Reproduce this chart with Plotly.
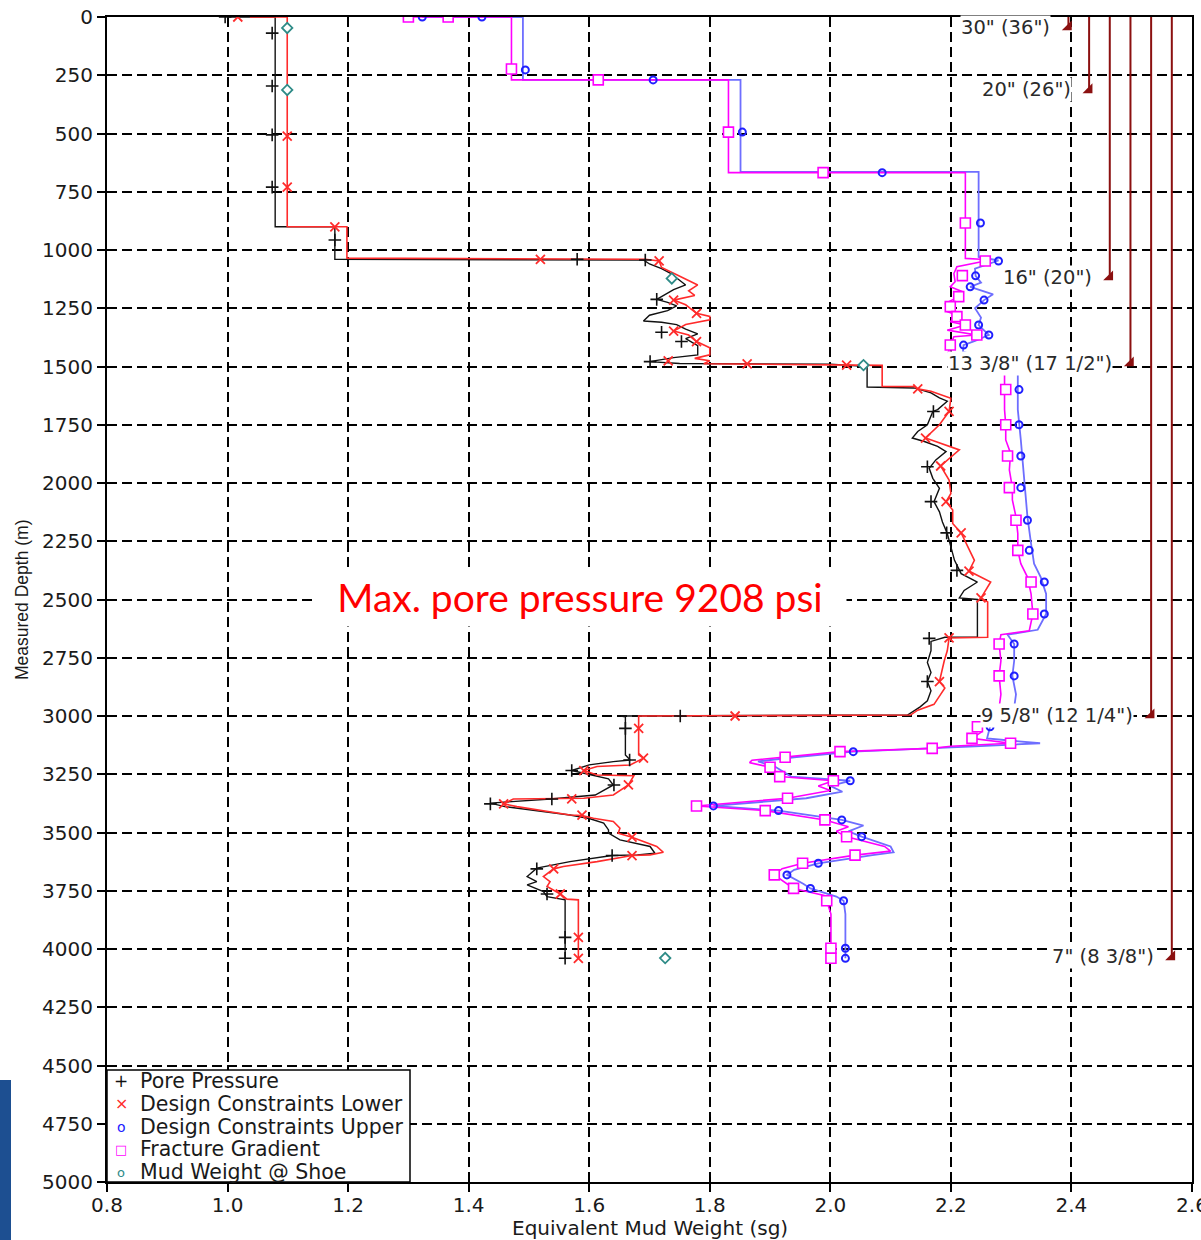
import plotly.graph_objects as go

# ---------------- DATA (sg = equivalent mud weight, md = measured depth m) ----------------
# Pore pressure curve
pp_line_sg = [1.00, 1.079, 1.079, 1.178, 1.178, 1.69, 1.70, 1.72, 1.735, 1.75, 1.76, 1.74, 1.712, 1.73, 1.745,
              1.73, 1.70, 1.69, 1.72, 1.745, 1.76, 1.78, 1.76, 1.78, 1.78, 1.74, 1.70, 1.75, 2.00, 2.061,
              2.061, 2.139, 2.167, 2.181, 2.194, 2.178, 2.170, 2.161, 2.145, 2.136, 2.156, 2.178, 2.192, 2.175,
              2.164, 2.170, 2.181, 2.172, 2.181, 2.186, 2.194, 2.200, 2.206, 2.217, 2.233, 2.244, 2.222, 2.214,
              2.244, 2.244, 2.190, 2.167, 2.167, 2.161, 2.167, 2.161, 2.167, 2.161, 2.149, 2.128, 1.652,
              1.66, 1.66, 1.668, 1.64, 1.60, 1.571, 1.60, 1.632, 1.64, 1.61, 1.536, 1.436, 1.46, 1.568, 1.60,
              1.624, 1.632, 1.632, 1.651, 1.701, 1.709, 1.68, 1.638, 1.568, 1.513, 1.497, 1.513, 1.497, 1.524,
              1.53, 1.56, 1.56, 1.56]
pp_line_md = [0, 0, 900, 900, 1040, 1043, 1060, 1080, 1100, 1130, 1150, 1170, 1212, 1225, 1240,
              1260, 1280, 1305, 1310, 1320, 1340, 1360, 1380, 1410, 1450, 1462, 1479, 1487, 1490, 1500,
              1588, 1592, 1613, 1635, 1649, 1685, 1693, 1750, 1779, 1807, 1822, 1843, 1865, 1901,
              1937, 1980, 2023, 2080, 2124, 2167, 2217, 2274, 2332, 2389, 2410, 2425, 2461, 2493,
              2500, 2662, 2662, 2680, 2720, 2770, 2813, 2852, 2892, 2935, 2961, 2996, 3000,
              3003, 3167, 3189, 3196, 3210, 3234, 3250, 3270, 3296, 3339, 3356, 3374, 3389, 3425, 3440,
              3460, 3489, 3503, 3532, 3560, 3589, 3596, 3599, 3625, 3653, 3689, 3711, 3725, 3754,
              3775, 3789, 3950, 4040]
pp_mark_sg = [0.996, 1.074, 1.074, 1.074, 1.074, 1.178, 1.58, 1.693, 1.712, 1.72, 1.753, 1.701, 2.171, 2.161,
              2.167, 2.193, 2.21, 2.164, 2.161, 1.751, 1.66, 1.667, 1.571, 1.641, 1.538, 1.436, 1.638, 1.513,
              1.53, 1.56, 1.56]
pp_mark_md = [0, 69, 296, 506, 730, 957, 1040, 1043, 1212, 1353, 1393, 1479, 1693, 1930,
              2080, 2214, 2375, 2667, 2852, 3000, 3053, 3189, 3234, 3296, 3356, 3377, 3599, 3656,
              3764, 3950, 4040]

# Design constraints lower
dcl_line_sg = [1.037, 1.099, 1.099, 1.198, 1.198, 1.693, 1.716, 1.72, 1.74, 1.765, 1.78, 1.765, 1.775, 1.74,
               1.76, 1.778, 1.80, 1.80, 1.76, 1.74, 1.765, 1.778, 1.80, 1.80, 1.775, 1.80, 1.79, 2.086,
               2.086, 2.139, 2.145, 2.167, 2.200, 2.197, 2.181, 2.158, 2.200, 2.214, 2.183, 2.197, 2.200,
               2.192, 2.203, 2.203, 2.217, 2.228, 2.239, 2.230, 2.250, 2.266, 2.250, 2.261, 2.261, 2.197,
               2.194, 2.189, 2.181, 2.190, 2.183, 2.172, 2.145, 2.133, 1.682,
               1.682, 1.682, 1.69, 1.668, 1.613, 1.591, 1.613, 1.674, 1.665, 1.64, 1.591, 1.474, 1.458, 1.48,
               1.568, 1.588, 1.607, 1.64, 1.651, 1.648, 1.671, 1.712, 1.723, 1.701, 1.671, 1.613, 1.557,
               1.541, 1.524, 1.535, 1.53, 1.552, 1.563, 1.582, 1.582, 1.582]
dcl_line_md = [0, 0, 900, 900, 1035, 1040, 1047, 1075, 1100, 1130, 1150, 1175, 1195, 1215,
               1235, 1272, 1285, 1300, 1320, 1348, 1365, 1393, 1420, 1450, 1465, 1475, 1488, 1495,
               1586, 1586, 1596, 1606, 1636, 1693, 1750, 1807, 1843, 1858, 1927, 1987, 2045,
               2080, 2116, 2174, 2214, 2274, 2332, 2378, 2404, 2425, 2493, 2510, 2662, 2665,
               2720, 2763, 2852, 2880, 2907, 2950, 2975, 2996, 3000,
               3053, 3167, 3181, 3210, 3217, 3234, 3253, 3256, 3296, 3339, 3353, 3356, 3377, 3389,
               3425, 3427, 3439, 3453, 3482, 3503, 3520, 3560, 3585, 3596, 3599, 3625, 3646,
               3656, 3689, 3711, 3732, 3764, 3786, 3789, 3950, 4040]
dcl_mark_sg = [1.017, 1.099, 1.099, 1.178, 1.519, 1.716, 1.74, 1.778, 1.74, 1.778, 1.731, 1.862, 2.027,
               2.145, 2.197, 2.158, 2.183, 2.192, 2.217, 2.23, 2.25, 2.197, 2.181, 1.842, 1.682, 1.69,
               1.591, 1.665, 1.571, 1.458, 1.588, 1.671, 1.671, 1.541, 1.552, 1.582, 1.582]
dcl_mark_md = [0, 511, 730, 901, 1040, 1047, 1215, 1272, 1348, 1393, 1476, 1489, 1494,
               1596, 1693, 1807, 1927, 2080, 2214, 2378, 2493, 2665, 2852, 3000, 3053, 3181,
               3234, 3296, 3356, 3377, 3425, 3520, 3599, 3656, 3764, 3950, 4040]

# Design constraints upper
dcu_line_sg = [1.323, 1.49, 1.49, 1.851, 1.851, 2.246, 2.246, 2.279, 2.24, 2.241, 2.25, 2.232, 2.27, 2.255,
               2.24, 2.25, 2.246, 2.263, 2.24, 2.221, 2.22, 2.311, 2.311, 2.311, 2.316, 2.319, 2.322, 2.327,
               2.333, 2.338, 2.349, 2.358, 2.358, 2.344, 2.294, 2.305, 2.305, 2.302, 2.308, 2.305, 2.29,
               2.265, 2.26, 2.348, 2.24, 2.038, 1.94, 1.88, 1.91, 1.935, 2.033, 2.0, 2.02, 1.96, 1.806,
               1.914, 2.019, 2.055, 2.03, 2.052, 2.10, 2.105, 2.07, 1.98, 1.94, 1.928, 1.955, 1.967, 2.01,
               2.022, 2.025, 2.025]
dcu_line_md = [0, 0, 270, 270, 665, 665, 1030, 1045, 1080, 1111, 1140, 1158, 1190, 1215,
               1250, 1290, 1322, 1365, 1390, 1408, 1437, 1500, 1527, 1685, 1815, 1900, 2020, 2145,
               2260, 2346, 2404, 2476, 2562, 2630, 2651, 2691, 2763, 2828, 2907, 2964, 3010,
               3046, 3096, 3117, 3130, 3153, 3177, 3195, 3220, 3260, 3278, 3300, 3325, 3353, 3386,
               3406, 3446, 3470, 3495, 3518, 3560, 3585, 3597, 3632, 3660, 3682, 3720, 3740, 3775,
               3793, 3850, 4040]
dcu_mark_sg = [1.323, 1.422, 1.494, 1.706, 1.854, 2.086, 2.249, 2.279, 2.241, 2.232, 2.255, 2.246, 2.263,
               2.221, 2.313, 2.313, 2.316, 2.316, 2.327, 2.33, 2.355, 2.355, 2.305, 2.305, 2.265, 2.038,
               2.033, 1.806, 1.914, 2.019, 2.052, 1.98, 1.928, 1.967, 2.022, 2.025, 2.025]
dcu_mark_md = [0, 0, 227, 270, 494, 668, 884, 1047, 1111, 1158, 1215, 1322, 1365,
               1408, 1599, 1750, 1884, 2020, 2160, 2289, 2425, 2562, 2691, 2828, 3046, 3153,
               3278, 3386, 3406, 3446, 3518, 3632, 3682, 3740, 3793, 3997, 4040]

# Fracture gradient
fg_line_sg = [1.30, 1.471, 1.471, 1.831, 1.831, 2.224, 2.224, 2.249, 2.257, 2.21, 2.205, 2.207, 2.199, 2.219,
              2.213, 2.191, 2.194, 2.21, 2.199, 2.224, 2.194, 2.243, 2.205, 2.199, 2.196, 2.29, 2.289, 2.289,
              2.289, 2.291, 2.291, 2.299, 2.297, 2.302, 2.302, 2.308, 2.311, 2.311, 2.316, 2.327, 2.333,
              2.336, 2.33, 2.283, 2.28, 2.283, 2.28, 2.283, 2.28, 2.28, 2.26, 2.244, 2.25, 2.235, 2.299,
              2.20, 2.169, 2.016, 1.925, 1.87, 1.866, 1.90, 1.916, 2.005, 1.98, 2.0, 1.929, 1.778, 1.892,
              1.991, 2.03, 2.01, 2.027, 2.09, 2.10, 2.041, 1.954, 1.92, 1.907, 1.928, 1.939, 1.99, 1.994,
              2.001, 2.001, 2.001]
fg_line_md = [0, 0, 270, 270, 668, 668, 1036, 1040, 1047, 1072, 1101, 1136, 1158, 1179,
              1200, 1229, 1265, 1279, 1308, 1322, 1344, 1365, 1372, 1408, 1437, 1500, 1527, 1599,
              1685, 1750, 1815, 1872, 1944, 2020, 2073, 2145, 2217, 2289, 2346, 2404, 2476,
              2562, 2634, 2651, 2691, 2763, 2828, 2907, 2964, 2990, 3010, 3046, 3070, 3096, 3117,
              3130, 3139, 3153, 3177, 3190, 3200, 3220, 3260, 3278, 3300, 3320, 3353, 3386, 3406,
              3446, 3475, 3495, 3518, 3560, 3580, 3597, 3632, 3655, 3682, 3720, 3740, 3770, 3793,
              3850, 3997, 4040]
fg_mark_sg = [1.30, 1.366, 1.471, 1.615, 1.831, 1.988, 2.224, 2.257, 2.219, 2.213, 2.199, 2.21, 2.224, 2.243,
              2.199, 2.291, 2.291, 2.294, 2.297, 2.308, 2.311, 2.333, 2.336, 2.28, 2.28, 2.244, 2.235,
              2.299, 2.169, 2.016, 1.925, 1.90, 1.916, 2.005, 1.929, 1.778, 1.892, 1.991, 2.027, 2.041,
              1.954, 1.907, 1.939, 1.994, 2.001, 2.001]
fg_mark_md = [0, 0, 223, 270, 494, 668, 884, 1047, 1110, 1200, 1243, 1286, 1322, 1365,
              1408, 1599, 1750, 1884, 2020, 2160, 2289, 2425, 2562, 2691, 2828, 3046, 3096,
              3117, 3139, 3153, 3177, 3220, 3260, 3278, 3353, 3386, 3406, 3446, 3518, 3597,
              3632, 3682, 3740, 3793, 3997, 4040]

# Mud weight at casing shoe
mws_sg = [1.099, 1.099, 1.737, 2.055, 1.726]
mws_md = [47, 313, 1122, 1494, 4039]

# Casing program (size and hole size) with shoe depths
casing_labels = ['30" (36")', '20" (26")', '16" (20")', '13 3/8" (17 1/2")', '9 5/8" (12 1/4")', '7" (8 3/8")']
casing_shoe_md = [43, 313, 1116, 1485, 2996, 4034]

legend_names = ["Pore Pressure", "Design Constraints Lower", "Design Constraints Upper",
                "Fracture Gradient", "Mud Weight @ Shoe"]

x_ticks = [0.8, 1.0, 1.2, 1.4, 1.6, 1.8, 2.0, 2.2, 2.4, 2.6]
y_ticks = list(range(0, 5001, 250))

note_text = "Max. pore pressure 9208 psi"
x_title = "Equivalent Mud Weight (sg)"
y_title = "Measured Depth (m)"

# ---------------- STYLE / LAYOUT ----------------
W, H = 1201, 1240
ML, MR, MT, MB = 107, 9, 17, 58
PW, PH = W - ML - MR, H - MT - MB


def paper_x(px):
    return (px - ML) / PW


def paper_y(py):
    return (H - MB - py) / PH


C_PP = "#111111"
C_DCL = "#FF2B2B"
C_DCU = "#2020FF"
C_DCU_LINE = "#6E6EFF"
C_FG = "#FF00FF"
C_MWS = "#2E8B87"
C_CSG = "#8B1010"
TXT = "DejaVu Sans"
TXT_C = "#1a1a1a"

fig = go.Figure()

# lines
fig.add_trace(go.Scatter(x=dcu_line_sg, y=dcu_line_md, mode="lines",
                         line=dict(color=C_DCU_LINE, width=1.8), showlegend=False, hoverinfo="skip"))
fig.add_trace(go.Scatter(x=fg_line_sg, y=fg_line_md, mode="lines",
                         line=dict(color=C_FG, width=1.6), showlegend=False, hoverinfo="skip"))
fig.add_trace(go.Scatter(x=pp_line_sg, y=pp_line_md, mode="lines",
                         line=dict(color=C_PP, width=1.4), showlegend=False, hoverinfo="skip"))
fig.add_trace(go.Scatter(x=dcl_line_sg, y=dcl_line_md, mode="lines",
                         line=dict(color=C_DCL, width=1.6), showlegend=False, hoverinfo="skip"))

# markers
fig.add_trace(go.Scatter(x=dcu_mark_sg, y=dcu_mark_md, mode="markers", name=legend_names[2],
                         marker=dict(symbol="circle-open", size=7, color=C_DCU, line=dict(width=2, color=C_DCU)),
                         showlegend=False))
fig.add_trace(go.Scatter(x=fg_mark_sg, y=fg_mark_md, mode="markers", name=legend_names[3],
                         marker=dict(symbol="square", size=10, color="white", line=dict(width=1.6, color=C_FG)),
                         showlegend=False))
fig.add_trace(go.Scatter(x=pp_mark_sg, y=pp_mark_md, mode="markers", name=legend_names[0],
                         marker=dict(symbol="cross-thin", size=9, color=C_PP, line=dict(width=1.6, color=C_PP)),
                         showlegend=False))
fig.add_trace(go.Scatter(x=dcl_mark_sg, y=dcl_mark_md, mode="markers", name=legend_names[1],
                         marker=dict(symbol="x-thin", size=9, color=C_DCL, line=dict(width=1.8, color=C_DCL)),
                         showlegend=False))
fig.add_trace(go.Scatter(x=mws_sg, y=mws_md, mode="markers", name=legend_names[4],
                         marker=dict(symbol="diamond", size=8, color="white", line=dict(width=1.8, color=C_MWS)),
                         showlegend=False))

# casing shoe tracks (vertical lines from surface to shoe, with a shoe triangle)
track_x0, track_step = 2.395, 0.0343
annotations = []
for i, (lab, md) in enumerate(zip(casing_labels, casing_shoe_md)):
    xc = track_x0 + i * track_step
    fig.add_trace(go.Scatter(x=[xc, xc], y=[0, md], mode="lines",
                             line=dict(color=C_CSG, width=2), showlegend=False, hoverinfo="skip"))
    fig.add_trace(go.Scatter(x=[xc], y=[md], mode="markers",
                             marker=dict(symbol="triangle-se", size=11, color=C_CSG),
                             showlegend=False, hoverinfo="skip"))
    annotations.append(dict(x=xc, y=md, xref="x", yref="y", text=lab, showarrow=False,
                            xanchor="right", yanchor="middle", xshift=-17, bgcolor="white",
                            borderpad=0, font=dict(family=TXT, size=19.5, color="#2a2a2a")))

# max pore pressure note
annotations.append(dict(x=paper_x(580), y=paper_y(597), xref="paper", yref="paper", text=note_text,
                        showarrow=False, xanchor="center", yanchor="middle", width=530, height=56,
                        bgcolor="white", font=dict(family="Lato", size=39, color="#FF0000")))

# axis titles
annotations.append(dict(x=0.5, y=paper_y(1228), xref="paper", yref="paper", text=x_title,
                        showarrow=False, xanchor="center", yanchor="middle",
                        font=dict(family=TXT, size=20, color=TXT_C)))
annotations.append(dict(x=paper_x(22), y=paper_y(600), xref="paper", yref="paper", text=y_title,
                        showarrow=False, xanchor="center", yanchor="middle", textangle=-90,
                        font=dict(family="Liberation Sans", size=17.5, color=TXT_C)))

# manual legend
shapes = [dict(type="rect", xref="paper", yref="paper", x0=0, x1=paper_x(410), y0=0, y1=paper_y(1070),
               line=dict(color="black", width=1.5), fillcolor="white", layer="above"),
          dict(type="rect", xref="paper", yref="paper", x0=paper_x(0), x1=paper_x(11),
               y0=paper_y(1240), y1=paper_y(1080), line=dict(width=0), fillcolor="#1d4f91")]
legend_syms = [("+", C_PP, 17), ("×", C_DCL, 16), ("o", C_DCU, 14), ("□", C_FG, 13), ("o", C_MWS, 13)]
for i, (name, (sym, col, sz)) in enumerate(zip(legend_names, legend_syms)):
    py = 1081 + i * 22.8
    annotations.append(dict(x=paper_x(121), y=paper_y(py), xref="paper", yref="paper", text=sym,
                            showarrow=False, xanchor="center", yanchor="middle",
                            font=dict(family=TXT, size=sz, color=col)))
    annotations.append(dict(x=paper_x(138), y=paper_y(py), xref="paper", yref="paper", text=name,
                            showarrow=False, xanchor="left", yanchor="middle",
                            font=dict(family=TXT, size=20.5, color=TXT_C)))

axis_common = dict(showline=True, linewidth=2, linecolor="black", mirror=True,
                   showgrid=True, gridcolor="black", gridwidth=1.6, griddash="10px,5px",
                   ticks="outside", ticklen=8, tickwidth=2, tickcolor="black", zeroline=False,
                   ticklabeloverflow="allow",
                   tickfont=dict(family=TXT, size=20, color=TXT_C))

fig.update_layout(
    width=W, height=H,
    margin=dict(l=ML, r=MR, t=MT, b=MB, pad=0),
    paper_bgcolor="white", plot_bgcolor="white",
    showlegend=False,
    xaxis=dict(range=[0.8, 2.6], tickvals=x_ticks, ticktext=[f"{v:.1f}" for v in x_ticks],
               ticklabelstandoff=-4, automargin=False, **axis_common),
    yaxis=dict(range=[5000, 0], tickvals=y_ticks, ticktext=[str(v) for v in y_ticks],
               automargin=False, **axis_common),
    annotations=annotations,
    shapes=shapes,
)

fig.write_html("out.html", config={"displayModeBar": False},
               post_script="document.body.style.margin='0px';document.body.style.overflow='hidden';")
